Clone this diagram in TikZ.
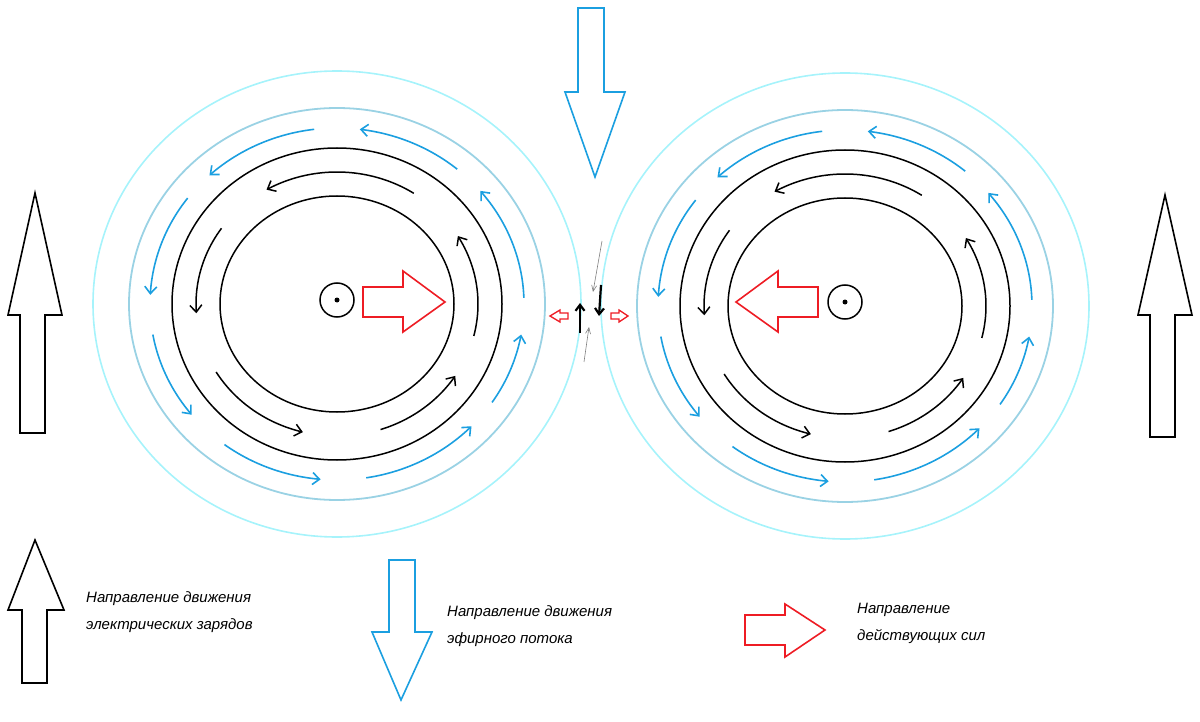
\documentclass[tikz,border=0pt]{standalone}
\usepackage{fontspec}
\setmainfont{Liberation Sans}
\usetikzlibrary{arrows.meta}
\definecolor{cyanl}{HTML}{A6F3FB}
\definecolor{bluel}{HTML}{9AD2E4}
\definecolor{bluea}{HTML}{1B9FE0}
\definecolor{redf}{HTML}{EE1C24}
\newcommand{\earc}[7]{\draw[#7] plot[domain=#5:#6,smooth,samples=25] ({#1+#3*cos(\x)},{#2-#4*sin(\x)});}
\newcommand{\circset}[2]{%
 \draw[cyanl,line width=1.6pt] (#1,#2) ellipse[x radius=244,y radius=233];
 \draw[bluel,line width=1.8pt] (#1,#2) ellipse[x radius=208,y radius=196];
 \draw[black,line width=1.5pt] (#1,#2) ellipse[x radius=165,y radius=156];
 \draw[black,line width=1.5pt] (#1,#2) ellipse[x radius=117,y radius=108];
 \draw[line width=1.5pt] (#1,#2-4) circle[radius=17];
 \fill (#1,#2-4) circle[radius=2.5];
 \foreach \a/\b in {50/83,97/133,143/177,190/219,233/265,279/316,326/350,2/40}{\earc{#1}{#2}{187}{176}{\a}{\b}{barr}}
 \foreach \a/\b in {57/120,145/184,211/256,288/327,-14/31}{\earc{#1}{#2}{141}{132}{\a}{\b}{karr}}
}
\tikzset{
 barr/.style={bluea,line width=1.6pt,-{Straight Barb[length=7pt,width=12pt]}},
 karr/.style={black,line width=1.5pt,-{Straight Barb[length=7pt,width=12pt]}},
 lbl/.style={font=\itshape\fontsize{15}{27}\selectfont,align=left,anchor=north west,inner sep=0pt},
 bigk/.style={draw=black,line width=1.6pt,fill=white},
 bigb/.style={draw=bluea,line width=1.6pt,fill=white},
 bigr/.style={draw=redf,line width=1.6pt,fill=white},
}
\begin{document}
\begin{tikzpicture}[x=1pt,y=-1pt]
\useasboundingbox (0,0) rectangle (1200,722);
\circset{337}{304}
\circset{845}{306}
% red force arrows inside
\draw[bigr] (363,287)--(403,287)--(403,271)--(445,302)--(403,332)--(403,317)--(363,317)--cycle;
\draw[bigr] (818,287)--(778,287)--(778,271)--(736,302)--(778,332)--(778,317)--(818,317)--cycle;
% big vertical arrows
\draw[bigk] (20,433)--(20,315)--(8,315)--(35,193)--(62,315)--(45,315)--(45,433)--cycle;
\draw[bigk] (1150,437)--(1150,315)--(1138,315)--(1165,195)--(1192,315)--(1175,315)--(1175,437)--cycle;
\draw[bigb] (578,8)--(604,8)--(604,92)--(625,92)--(595,177)--(565,92)--(578,92)--cycle;
% centre small arrows
\draw[redf,line width=1.3pt] (568,313)--(560,313)--(560,310)--(550,316)--(560,322)--(560,319)--(568,319)--cycle;
\draw[redf,line width=1.3pt] (611,313)--(619,313)--(619,310)--(628,316)--(619,322)--(619,319)--(611,319)--cycle;
\draw[black,line width=2.2pt,-{Straight Barb[length=6pt,width=9pt]}] (580,333)--(580,303);
\draw[black,line width=2.2pt,-{Straight Barb[length=6pt,width=9pt]}] (601,285)--(599,316);
\draw[gray,line width=0.6pt,-{Straight Barb[length=6pt,width=5pt]}] (602,241)--(593,292);
\draw[gray,line width=0.6pt,-{Straight Barb[length=6pt,width=5pt]}] (584,362)--(589,327);
% legend
\draw[bigk] (22,683)--(22,610)--(8,610)--(35,540)--(64,610)--(47,610)--(47,683)--cycle;
\draw[bigb] (389,560)--(415,560)--(415,632)--(432,632)--(401,700)--(372,632)--(389,632)--cycle;
\draw[bigr] (745,615)--(785,615)--(785,604)--(825,630)--(785,657)--(785,645)--(745,645)--cycle;
\node[lbl] (t1) at (86,591) {Направление движения\\электрических зарядов};
\node[lbl] (t2) at (447,605) {Направление движения\\эфирного потока};
\node[lbl] (t3) at (857,603) {Направление\\действующих сил};
\end{tikzpicture}
\end{document}
